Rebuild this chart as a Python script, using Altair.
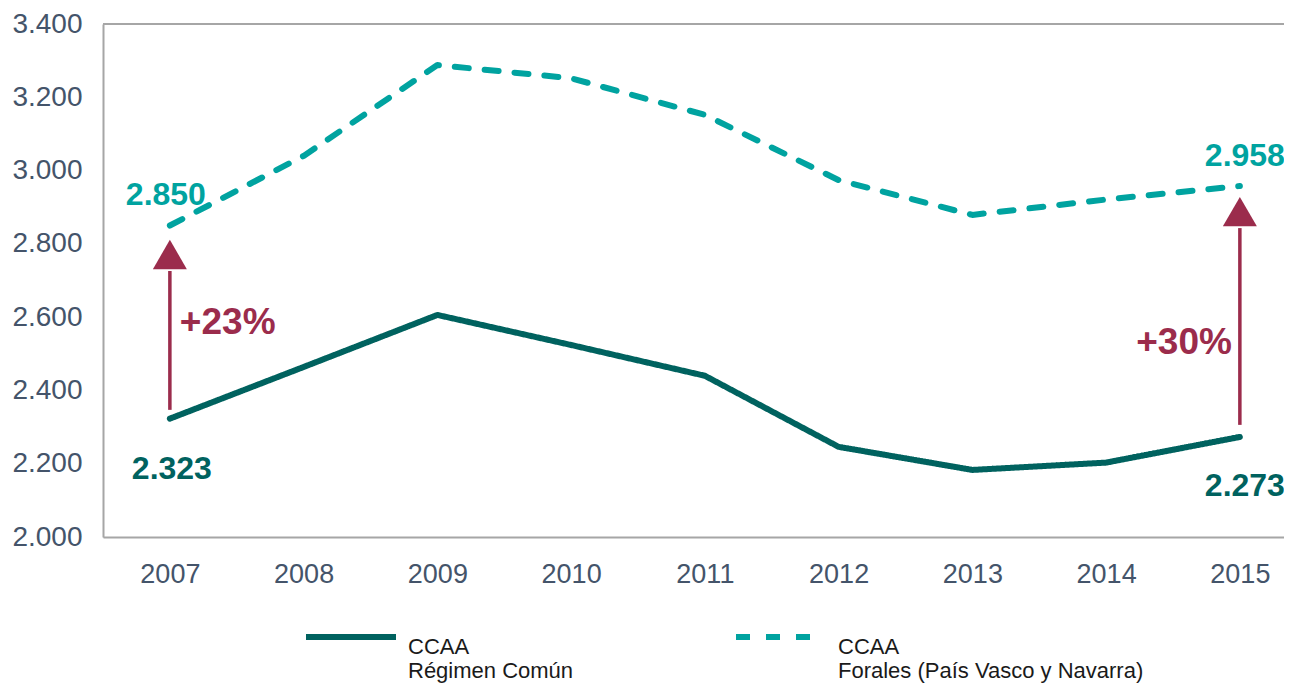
import altair as alt
import pandas as pd

# ---- data ----
years = [2007, 2008, 2009, 2010, 2011, 2012, 2013, 2014, 2015]
comun = [2323, 2464, 2606, 2524, 2440, 2246, 2183, 2203, 2273]
forales = [2850, 3040, 3288, 3252, 3152, 2974, 2879, 2921, 2958]
series_names = ["CCAA|Régimen Común", "CCAA|Forales (País Vasco y Navarra)"]
y_ticks = [2000, 2200, 2400, 2600, 2800, 3000, 3200, 3400]

arrow_years = [2007, 2015]
arrow_from = [2347, 2306]
arrow_to = [2726, 2843]
arrow_head = [2771, 2888]
pct_labels = ["+23%", "+30%"]
pct_values = [2584, 2529]

C_COMUN = "#00625f"
C_FORAL = "#00a3a0"
C_ARROW = "#9b2c4c"
C_AXIS = "#44546a"
FONT = "Liberation Sans"

lines_df = pd.DataFrame({
    "year": years * 2,
    "value": comun + forales,
    "serie": [series_names[0]] * len(years) + [series_names[1]] * len(years),
})

def fmt(v):
    return f"{v:,}".replace(",", ".")

ends_df = pd.DataFrame({
    "year": [years[0], years[-1], years[0], years[-1]],
    "value": [comun[0], comun[-1], forales[0], forales[-1]],
    "kind": ["c0", "c1", "f0", "f1"],
})
ends_df["label"] = ends_df["value"].map(fmt)

arrows_df = pd.DataFrame({
    "year": arrow_years, "y0": arrow_from, "y1": arrow_to,
    "head": arrow_head, "pct": pct_labels, "pv": pct_values,
})

x_enc = alt.X(
    "year:Q",
    scale=alt.Scale(domain=[2006.5, 2015.33], nice=False, zero=False),
    axis=alt.Axis(values=years, format="d", title=None, grid=False, ticks=False,
                  domainColor="#a6a6a6", domainWidth=2, labelFontSize=27,
                  labelColor=C_AXIS, labelPadding=24, labelFont=FONT),
)
y_scale = alt.Scale(domain=[2000, 3400], nice=False, zero=False)
y_enc = alt.Y(
    "value:Q", scale=y_scale,
    axis=alt.Axis(values=y_ticks, title=None, ticks=False,
                  labelExpr="replace(format(datum.value, ','), ',', '.')",
                  gridColor="#d9d9d9", gridWidth=1.5, domainColor="#a6a6a6",
                  domainWidth=2, labelFontSize=28, labelColor=C_AXIS,
                  labelPadding=21, labelFont=FONT),
)

legend = alt.Legend(
    orient="none", legendX=200, legendY=565, direction="horizontal", title=None,
    symbolType="stroke", symbolSize=8100, symbolStrokeWidth=6,
    labelExpr="split(datum.label, '|')", labelFontSize=22, labelFont=FONT,
    labelColor="#1a1a1a", labelLimit=0, columnPadding=150, labelOffset=9,
    labelBaseline="top", padding=0,
)

base = alt.Chart(lines_df)
lines = base.mark_line(strokeWidth=6, strokeCap="round", strokeJoin="round").encode(
    x=x_enc, y=y_enc,
    color=alt.Color("serie:N", scale=alt.Scale(domain=series_names, range=[C_COMUN, C_FORAL]), legend=legend),
    strokeDash=alt.StrokeDash("serie:N", scale=alt.Scale(domain=series_names, range=[[1, 0], [14, 16]]), legend=legend),
)

top_rule = alt.Chart().mark_rule(color="#a6a6a6", strokeWidth=2).encode(y=alt.datum(3400))

ends = alt.Chart(ends_df)
def end_text(kind, color, dx, dy):
    return ends.transform_filter(alt.datum.kind == kind).mark_text(
        font=FONT, fontSize=32, fontWeight="bold", color=color, dx=dx, dy=dy,
        baseline="middle", align="center",
    ).encode(x="year:Q", y="value:Q", text="label:N")

t_c0 = end_text("c0", C_COMUN, 2, 50)
t_c1 = end_text("c1", C_COMUN, 5, 49)
t_f0 = end_text("f0", C_FORAL, -4, -31)
t_f1 = end_text("f1", C_FORAL, 5, -30)

arr = alt.Chart(arrows_df)
arrow_shaft = arr.mark_rule(color=C_ARROW, strokeWidth=3.5).encode(
    x="year:Q", y="y0:Q", y2="y1:Q")
arrow_tip = arr.mark_point(shape="triangle-up", filled=True, size=1156, color=C_ARROW,
                           opacity=1, strokeWidth=0).encode(x="year:Q", y="head:Q")
pct_left = arr.transform_filter(alt.datum.year == arrow_years[0]).mark_text(
    font=FONT, fontSize=37, fontWeight="bold", color=C_ARROW, align="left", dx=10,
    baseline="middle").encode(x="year:Q", y="pv:Q", text="pct:N")
pct_right = arr.transform_filter(alt.datum.year == arrow_years[1]).mark_text(
    font=FONT, fontSize=37, fontWeight="bold", color=C_ARROW, align="right", dx=-8,
    baseline="middle").encode(x="year:Q", y="pv:Q", text="pct:N")

chart = alt.layer(
    top_rule, lines, arrow_shaft, arrow_tip, pct_left, pct_right, t_c0, t_c1, t_f0, t_f1
).properties(
    width=1181, height=513,
    padding={"left": 95, "top": 16, "right": 0, "bottom": 151},
    autosize=alt.AutoSizeParams(type="none"),
).configure_view(stroke=None).configure(font=FONT)

chart.save("out.html", embed_options={"renderer": "svg", "actions": False})
